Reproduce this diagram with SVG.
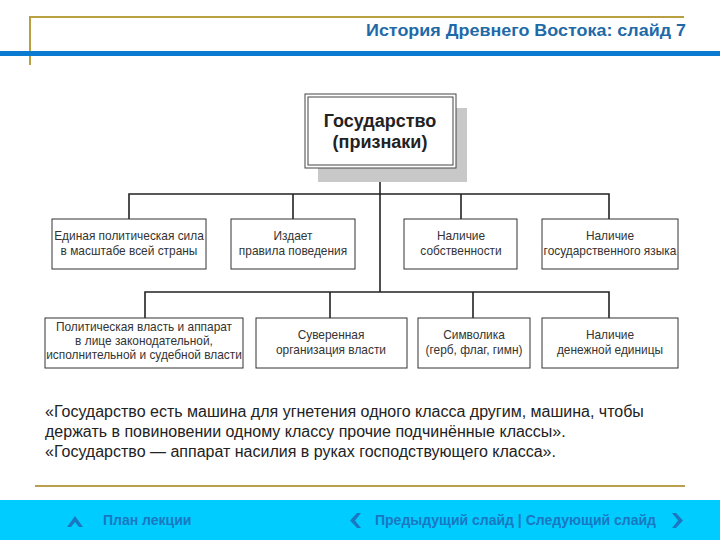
<svg xmlns="http://www.w3.org/2000/svg" width="720" height="540" viewBox="0 0 720 540">
<style>
.box{fill:#fff;stroke:#333;stroke-width:1}
.bt{font-family:"Liberation Sans",Arial,sans-serif;font-size:11.9px;fill:#333;text-anchor:middle}
.conn{fill:none;stroke:#222;stroke-width:1.6}
.q{font-family:"Liberation Sans",Arial,sans-serif;font-size:16px;fill:#222}
.foot{font-family:"Liberation Sans",Arial,sans-serif;font-size:14px;font-weight:bold;fill:#1a78c2}
.rt{font-family:"Liberation Sans",Arial,sans-serif;font-size:18px;font-weight:bold;fill:#222;text-anchor:middle}
</style>
<rect width="720" height="540" fill="#fff"/>
<g id="header">
<polyline points="30,65 30,17 684,17" fill="none" stroke="#b8a040" stroke-width="2"/>
<rect x="0" y="51" width="720" height="5" fill="#0a7bd0"/>
<text x="686" y="36" text-anchor="end" font-family="Liberation Sans,Arial,sans-serif" font-size="17px" font-weight="bold" fill="#1e6aa8" textLength="320" lengthAdjust="spacingAndGlyphs">История Древнего Востока: слайд 7</text>
</g>
<g id="connectors">
<path class="conn" d="M380,168 V292"/>
<path class="conn" d="M129,219 V194 H609 V219 M293,194 V219 M461,194 V219"/>
<path class="conn" d="M145,318 V292 H609 V318 M330,292 V318 M473,292 V318"/>
</g>
<g id="root">
<rect x="318" y="108" width="149" height="74" fill="#c8c8c8"/>
<rect x="305" y="94" width="151" height="74" fill="#fff" stroke="#444" stroke-width="1"/>
<rect x="308" y="97" width="145" height="68" fill="#fff" stroke="#444" stroke-width="1"/>
<text class="rt" x="380" y="127">Государство</text>
<text class="rt" x="380" y="148">(признаки)</text>
</g>
<g id="n1"><rect class="box" x="52" y="219" width="154" height="50"/><text class="bt" x="129" y="240">Единая политическая сила</text><text class="bt" x="129" y="255">в масштабе всей страны</text></g>
<g id="n2"><rect class="box" x="231" y="219" width="124" height="50"/><text class="bt" x="293" y="240">Издает</text><text class="bt" x="293" y="255">правила поведения</text></g>
<g id="n3"><rect class="box" x="404" y="219" width="113" height="50"/><text class="bt" x="461" y="240">Наличие</text><text class="bt" x="461" y="255">собственности</text></g>
<g id="n4"><rect class="box" x="542" y="219" width="136" height="50"/><text class="bt" x="610" y="240">Наличие</text><text class="bt" x="610" y="255">государственного языка</text></g>
<g id="n5"><rect class="box" x="45" y="318" width="198" height="50"/><text class="bt" x="144" y="331">Политическая власть и аппарат</text><text class="bt" x="144" y="345">в лице законодательной,</text><text class="bt" x="144" y="359">исполнительной и судебной власти</text></g>
<g id="n6"><rect class="box" x="256" y="318" width="151" height="50"/><text class="bt" x="331" y="339">Суверенная</text><text class="bt" x="331" y="354">организация власти</text></g>
<g id="n7"><rect class="box" x="418" y="318" width="112" height="50"/><text class="bt" x="474" y="339">Символика</text><text class="bt" x="474" y="354">(герб, флаг, гимн)</text></g>
<g id="n8"><rect class="box" x="542" y="318" width="136" height="50"/><text class="bt" x="610" y="339">Наличие</text><text class="bt" x="610" y="354">денежной единицы</text></g>
<g id="quote">
<text class="q" x="45" y="417">«Государство есть машина для угнетения одного класса другим, машина, чтобы</text>
<text class="q" x="45" y="437">держать в повиновении одному классу прочие подчинённые классы».</text>
<text class="q" x="45" y="457">«Государство — аппарат насилия в руках господствующего класса».</text>
</g>
<g id="footer">
<line x1="35" y1="486" x2="685" y2="486" stroke="#b8a050" stroke-width="2"/>
<rect x="0" y="500" width="720" height="40" fill="#00ccff"/>
<path d="M67,527 L75,516 L83,527 L79,527 L75,522 L71,527 Z" fill="#1a78c2"/>
<text class="foot" x="103" y="525">План лекции</text>
<path d="M357,513 L350,520.5 L357,528 L361,528 L355,520.5 L361,513 Z" fill="#1a78c2"/>
<text class="foot" x="375" y="525">Предыдущий слайд | Следующий слайд</text>
<path d="M676,513 L683,520.5 L676,528 L672,528 L678,520.5 L672,513 Z" fill="#1a78c2"/>
</g>
</svg>
